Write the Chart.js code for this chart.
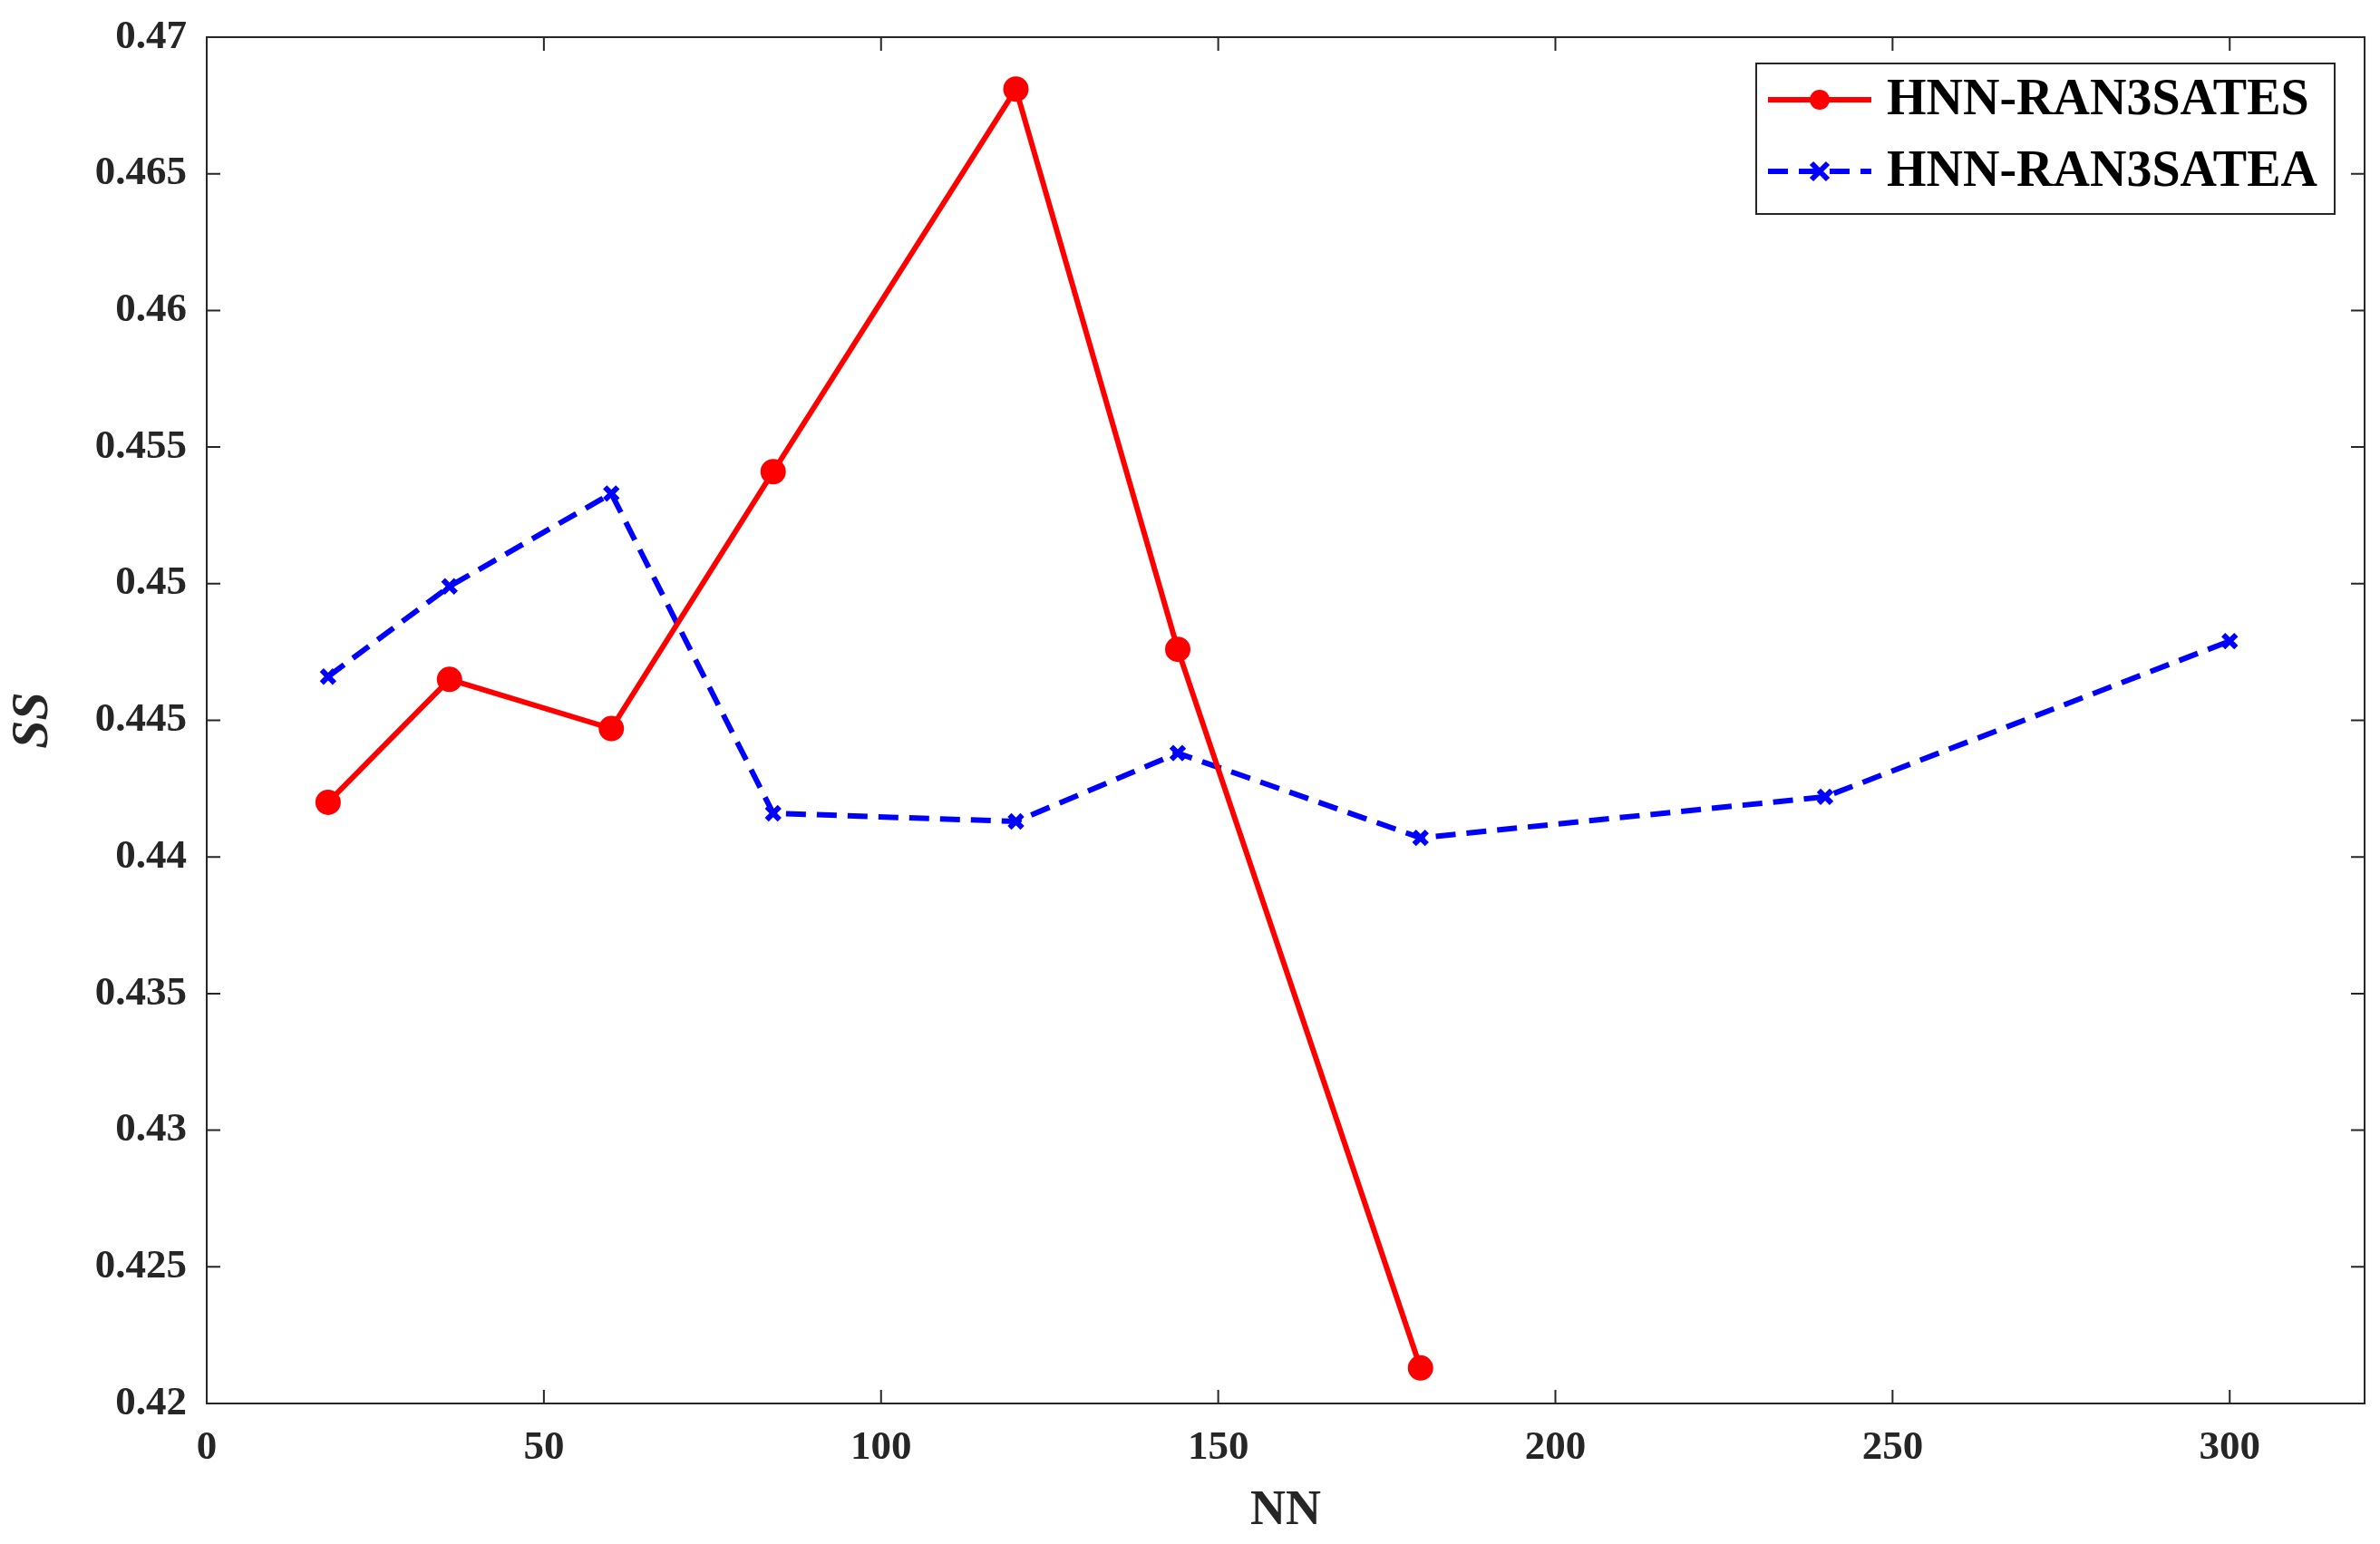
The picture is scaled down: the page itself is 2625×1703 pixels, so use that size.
<!DOCTYPE html>
<html><head><meta charset="utf-8">
<script src="https://cdn.jsdelivr.net/npm/chart.js@4"></script>
<style>html,body{margin:0;background:#fff}#wrap{width:2625px;height:1703px}</style>
</head><body><div id="wrap"><canvas id="c"></canvas></div>
<script>
// ====== Data ======
const nnES = [18, 36, 60, 84, 120, 144, 180];
const ssES = [0.4420, 0.4465, 0.4447, 0.4541, 0.4681, 0.4476, 0.4213];
const nnEA = [18, 36, 60, 84, 120, 144, 180, 240, 300];
const ssEA = [0.4466, 0.4499, 0.4533, 0.4416, 0.4413, 0.4438, 0.4407, 0.4422, 0.4479];
const seriesNames = ['HNN-RAN3SATES', 'HNN-RAN3SATEA'];

const FONT = '"Liberation Serif", "DejaVu Serif", serif';
const pts = (xs, ys) => xs.map((x, i) => ({x, y: ys[i]}));

// frame + ticks + legend box drawn by hand (MATLAB look)
const framePlugin = {
  id: 'frame',
  afterDraw(chart){
    const {ctx, chartArea:a, scales} = chart;
    ctx.save();
    ctx.strokeStyle = '#262626'; ctx.lineWidth = 2;
    ctx.strokeRect(a.left, a.top, a.right - a.left, a.bottom - a.top);
    ctx.beginPath();
    scales.x.ticks.forEach(t => {
      const px = scales.x.getPixelForValue(t.value);
      ctx.moveTo(px, a.bottom); ctx.lineTo(px, a.bottom - 15);
      ctx.moveTo(px, a.top); ctx.lineTo(px, a.top + 15);
    });
    scales.y.ticks.forEach(t => {
      const py = scales.y.getPixelForValue(t.value);
      ctx.moveTo(a.left, py); ctx.lineTo(a.left + 15, py);
      ctx.moveTo(a.right, py); ctx.lineTo(a.right - 15, py);
    });
    ctx.stroke();

    // legend
    const lx = 1937, ly = 70, lw = 638, lh = 166;
    ctx.fillStyle = '#fff'; ctx.fillRect(lx, ly, lw, lh);
    ctx.strokeRect(lx, ly, lw, lh);
    const rows = [
      {y: 110, color: '#ff0000', dash: [], mark: 'dot'},
      {y: 189, color: '#0000ff', dash: [22, 12], mark: 'x'}
    ];
    rows.forEach((r, i) => {
      ctx.strokeStyle = r.color; ctx.fillStyle = r.color;
      ctx.lineWidth = 6; ctx.setLineDash(r.dash);
      ctx.beginPath(); ctx.moveTo(1950, r.y); ctx.lineTo(2064, r.y); ctx.stroke();
      ctx.setLineDash([]);
      if (r.mark === 'dot') { ctx.beginPath(); ctx.arc(2007, r.y, 11, 0, Math.PI*2); ctx.fill(); }
      else { ctx.lineWidth = 6; ctx.beginPath();
        ctx.moveTo(1998, r.y-9); ctx.lineTo(2016, r.y+9); ctx.moveTo(2016, r.y-9); ctx.lineTo(1998, r.y+9); ctx.stroke(); }
      ctx.fillStyle = '#000'; ctx.font = 'bold 56px ' + FONT;
      ctx.textBaseline = 'middle'; ctx.textAlign = 'left';
      ctx.fillText(seriesNames[i], 2081, r.y + 2);
    });
    ctx.restore();
  }
};

new Chart(document.getElementById('c'), {
  type: 'line',
  data: {
    datasets: [
      { label: seriesNames[0], data: pts(nnES, ssES), borderColor: '#ff0000', backgroundColor: '#ff0000',
        borderWidth: 6, pointRadius: 11, pointStyle: 'circle', tension: 0 },
      { label: seriesNames[1], data: pts(nnEA, ssEA), borderColor: '#0000ff', backgroundColor: '#0000ff',
        borderWidth: 6, borderDash: [22, 12], pointRadius: 10, pointStyle: 'crossRot', pointBorderWidth: 6, tension: 0 }
    ]
  },
  options: {
    responsive: true, maintainAspectRatio: false, animation: false,
    layout: { padding: { top: 37, right: 17 } },
    plugins: { legend: { display: false }, tooltip: { enabled: false } },
    scales: {
      x: {
        type: 'linear', min: 0, max: 320,
        ticks: { stepSize: 50, color: '#262626', font: { family: FONT, size: 45, weight: 'bold' }, padding: 14,
          callback: v => v % 50 === 0 ? v : '' },
        grid: { display: false }, border: { display: false },
        title: { display: true, text: 'NN', color: '#262626', font: { family: FONT, size: 54, weight: 'bold' }, padding: { top: 4 } },
        afterFit: s => { s.height = 155; }
      },
      y: {
        min: 0.42, max: 0.47,
        ticks: { stepSize: 0.005, color: '#262626', font: { family: FONT, size: 45, weight: 'bold' }, padding: 14,
          callback: v => String(Number(v.toFixed(3))) },
        grid: { display: false }, border: { display: false },
        title: { display: true, text: 'SS', color: '#262626', font: { family: FONT, size: 56, weight: 'bold', style: 'italic' } },
        afterFit: s => { s.width = 228; }
      }
    }
  },
  plugins: [framePlugin]
});
</script></body></html>
